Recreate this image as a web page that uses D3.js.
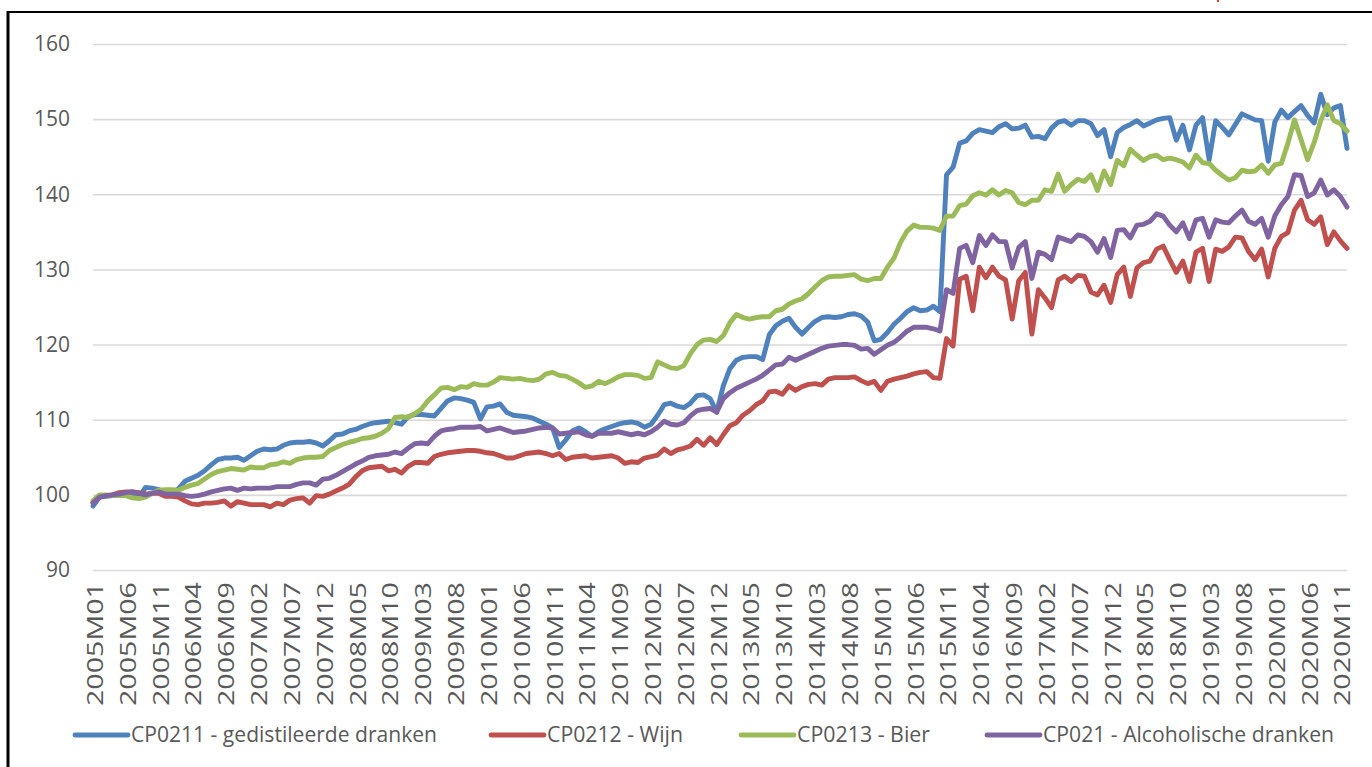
<!DOCTYPE html>
<html>
<head>
<meta charset="utf-8">
<script src="https://cdn.jsdelivr.net/npm/d3@7"></script>
<style>
  html, body { margin: 0; padding: 0; background: #fff; }
  svg { display: block; }
</style>
</head>
<body>
<svg id="chart" width="1372" height="767"></svg>
<script>
// Monthly price indices (2005M01 ≈ 100), January 2005 – December 2020
const startYear = 2005;
const endYear = 2020;
const months = [];
for (let yr = startYear; yr <= endYear; yr++) {
  for (let m = 1; m <= 12; m++) months.push(`${yr}M${String(m).padStart(2, "0")}`);
}

const xTickLabels = [
  "2005M01","2005M06","2005M11","2006M04","2006M09","2007M02","2007M07","2007M12",
  "2008M05","2008M10","2009M03","2009M08","2010M01","2010M06","2010M11","2011M04",
  "2011M09","2012M02","2012M07","2012M12","2013M05","2013M10","2014M03","2014M08",
  "2015M01","2015M06","2015M11","2016M04","2016M09","2017M02","2017M07","2017M12",
  "2018M05","2018M10","2019M03","2019M08","2020M01","2020M06","2020M11"
];
const yTicks = [90, 100, 110, 120, 130, 140, 150, 160];

const seriesNames = [
  "CP0211 - gedistileerde dranken",
  "CP0212 - Wijn",
  "CP0213 - Bier",
  "CP021 - Alcoholische dranken"
];
const seriesColors = ["#4f81bd", "#c0504d", "#9bbb59", "#8064a2"];

const spirits = [
  98.5, 99.7, 99.8, 99.9, 100.0, 100.0, 99.8, 99.6, 101.0, 100.9, 100.7, 100.4,
  100.3, 100.8, 101.8, 102.2, 102.6, 103.2, 104.0, 104.7, 104.9, 104.9, 105.0, 104.6,
  105.2, 105.8, 106.1, 106.0, 106.1, 106.6, 106.9, 107.0, 107.0, 107.1, 106.9, 106.5,
  107.2, 108.0, 108.1, 108.5, 108.7, 109.1, 109.4, 109.6, 109.7, 109.8, 109.6, 109.4,
  110.4, 110.7, 110.7, 110.6, 110.5, 111.5, 112.5, 112.9, 112.8, 112.6, 112.3, 110.1,
  111.7, 111.8, 112.1, 111.0, 110.6, 110.5, 110.4, 110.2, 109.8, 109.4, 108.9, 106.3,
  107.3, 108.5, 108.9, 108.4, 107.8, 108.4, 108.8, 109.1, 109.4, 109.6, 109.7, 109.5,
  109.0, 109.4, 110.6, 112.0, 112.2, 111.8, 111.6, 112.2, 113.2, 113.3, 112.8, 111.0,
  114.5, 116.8, 117.9, 118.3, 118.4, 118.4, 118.0, 121.3, 122.5, 123.1, 123.5, 122.3,
  121.4, 122.3, 123.1, 123.6, 123.7, 123.6, 123.7, 124.0, 124.1, 123.8, 123.0, 120.5,
  120.7, 121.6, 122.7, 123.5, 124.4, 124.9, 124.5, 124.6, 125.1, 124.4, 142.6, 143.6,
  146.8, 147.1, 148.1, 148.6, 148.4, 148.2, 149.0, 149.4, 148.7, 148.8, 149.2, 147.6,
  147.7, 147.4, 148.8, 149.6, 149.8, 149.2, 149.8, 149.8, 149.4, 147.8, 148.6, 145.0,
  148.2, 148.9, 149.3, 149.8, 149.1, 149.5, 149.9, 150.1, 150.2, 147.2, 149.2, 145.9,
  149.2, 150.2, 144.6, 149.8, 148.9, 147.9, 149.3, 150.7, 150.3, 149.9, 149.8, 144.4,
  149.6, 151.2, 150.2, 151.0, 151.8, 150.5, 149.5, 153.3, 150.6, 151.5, 151.8, 146.1
];

const wine = [
  99.0, 99.8, 99.9, 100.0, 100.3, 100.4, 100.4, 100.3, 100.1, 100.2, 100.2, 99.8,
  99.8, 99.7, 99.2, 98.8, 98.7, 98.9, 98.9, 99.0, 99.2, 98.5, 99.1, 98.9,
  98.7, 98.7, 98.7, 98.4, 98.9, 98.7, 99.3, 99.5, 99.6, 98.9, 99.9, 99.8,
  100.1, 100.5, 100.9, 101.4, 102.4, 103.2, 103.6, 103.7, 103.8, 103.2, 103.4, 102.9,
  103.8, 104.3, 104.3, 104.2, 105.1, 105.4, 105.6, 105.7, 105.8, 105.9, 105.9, 105.8,
  105.6, 105.5, 105.2, 104.9, 104.9, 105.2, 105.5, 105.6, 105.7, 105.5, 105.2, 105.5,
  104.7, 105.0, 105.1, 105.2, 104.9, 105.0, 105.1, 105.2, 104.9, 104.2, 104.4, 104.3,
  104.9, 105.1, 105.3, 106.1, 105.5, 106.0, 106.2, 106.5, 107.4, 106.6, 107.6, 106.7,
  108.0, 109.2, 109.6, 110.6, 111.2, 112.0, 112.5, 113.7, 113.8, 113.4, 114.5, 113.9,
  114.4, 114.7, 114.8, 114.6, 115.4, 115.6, 115.6, 115.6, 115.7, 115.2, 114.8, 115.1,
  113.9, 115.1, 115.4, 115.6, 115.8, 116.1, 116.3, 116.4, 115.6, 115.5, 120.8, 119.8,
  128.7, 129.1, 124.5, 130.3, 128.9, 130.3, 129.1, 128.6, 123.4, 128.5, 129.6, 121.4,
  127.3, 126.2, 124.9, 128.6, 129.1, 128.4, 129.2, 129.1, 127.0, 126.6, 127.9, 125.6,
  129.3, 130.3, 126.4, 130.2, 130.9, 131.1, 132.7, 133.1, 131.3, 129.6, 131.1, 128.4,
  132.3, 132.8, 128.4, 132.7, 132.4, 133.0, 134.3, 134.2, 132.4, 131.3, 132.7, 129.0,
  132.8, 134.4, 134.9, 137.9, 139.2, 136.6, 136.0, 137.0, 133.3, 135.0, 133.8, 132.8
];

const beer = [
  99.2, 100.0, 100.0, 99.9, 99.9, 99.9, 99.6, 99.5, 99.7, 100.2, 100.6, 100.7,
  100.7, 100.6, 101.0, 101.3, 101.5, 102.1, 102.7, 103.1, 103.3, 103.5, 103.4, 103.3,
  103.7, 103.6, 103.6, 104.0, 104.1, 104.4, 104.2, 104.7, 104.9, 105.0, 105.0, 105.1,
  105.9, 106.3, 106.7, 107.0, 107.2, 107.5, 107.6, 107.8, 108.2, 108.8, 110.3, 110.4,
  110.3, 110.8, 111.4, 112.5, 113.3, 114.2, 114.3, 114.0, 114.4, 114.3, 114.8, 114.6,
  114.6, 115.0, 115.6, 115.5, 115.4, 115.5, 115.3, 115.2, 115.4, 116.1, 116.3, 115.9,
  115.8, 115.4, 114.9, 114.3, 114.5, 115.1, 114.8, 115.2, 115.7, 116.0, 116.0, 115.9,
  115.5, 115.6, 117.7, 117.3, 116.9, 116.8, 117.2, 118.8, 120.0, 120.6, 120.7, 120.4,
  121.2, 122.9, 124.0, 123.6, 123.4, 123.6, 123.7, 123.7, 124.5, 124.7, 125.4, 125.8,
  126.1, 126.8, 127.7, 128.5, 129.0, 129.1, 129.1, 129.2, 129.3, 128.7, 128.5, 128.8,
  128.8, 130.3, 131.5, 133.6, 135.1, 135.9, 135.6, 135.6, 135.5, 135.2, 137.1, 137.1,
  138.5, 138.7, 139.8, 140.2, 139.9, 140.6, 139.9, 140.5, 140.2, 138.9, 138.6, 139.2,
  139.2, 140.6, 140.4, 142.7, 140.4, 141.3, 142.0, 141.7, 142.6, 140.5, 143.1, 141.3,
  144.5, 143.8, 146.0, 145.2, 144.5, 145.0, 145.2, 144.6, 144.8, 144.6, 144.3, 143.5,
  145.2, 144.2, 144.1, 143.2, 142.5, 141.9, 142.2, 143.2, 143.0, 143.1, 143.9, 142.8,
  143.9, 144.1, 146.8, 149.9, 147.3, 144.6, 146.9, 149.8, 151.9, 149.8, 149.4, 148.4
];

const alcohol = [
  98.9, 99.7, 99.9, 100.0, 100.1, 100.3, 100.4, 100.2, 100.0, 100.2, 100.4, 100.1,
  100.1, 100.1, 99.9, 99.8, 99.9, 100.1, 100.4, 100.6, 100.8, 100.9, 100.6, 100.9,
  100.8, 100.9, 100.9, 100.9, 101.1, 101.1, 101.1, 101.4, 101.6, 101.6, 101.3, 102.1,
  102.2, 102.6, 103.1, 103.6, 104.1, 104.5, 105.0, 105.2, 105.3, 105.4, 105.7, 105.5,
  106.2, 106.8, 106.9, 106.8, 107.8, 108.5, 108.7, 108.8, 109.0, 109.0, 109.0, 109.1,
  108.5, 108.7, 108.9, 108.6, 108.3, 108.4, 108.5, 108.7, 108.9, 109.0, 108.9, 108.1,
  108.2, 108.3, 108.4, 108.0, 107.8, 108.2, 108.2, 108.2, 108.4, 108.2, 108.0, 108.2,
  108.0, 108.4, 109.0, 109.8, 109.4, 109.3, 109.6, 110.5, 111.2, 111.4, 111.5, 111.0,
  112.8, 113.6, 114.2, 114.6, 115.0, 115.4, 115.9, 116.6, 117.3, 117.4, 118.3, 117.9,
  118.3, 118.7, 119.1, 119.5, 119.8, 119.9, 120.0, 120.0, 119.9, 119.4, 119.5, 118.7,
  119.3, 119.9, 120.3, 121.0, 121.8, 122.3, 122.3, 122.3, 122.1, 121.8, 127.3, 126.8,
  132.8, 133.2, 130.9, 134.5, 133.2, 134.6, 133.7, 133.7, 130.2, 132.9, 133.7, 128.8,
  132.3, 132.0, 131.3, 134.3, 134.0, 133.7, 134.6, 134.4, 133.7, 132.3, 134.1, 131.6,
  135.2, 135.3, 134.2, 135.9, 136.0, 136.4, 137.4, 137.1, 135.9, 135.0, 136.2, 134.1,
  136.6, 136.8, 134.3, 136.6, 136.3, 136.2, 137.1, 137.9, 136.4, 136.0, 136.8, 134.3,
  137.1, 138.6, 139.7, 142.6, 142.5, 139.7, 140.2, 141.9, 139.9, 140.6, 139.7, 138.3
];

const seriesValues = [spirits, wine, beer, alcohol];

// ---------------------------------------------------------------------------
const W = 1372, H = 767;
const plot = { left: 93, right: 1347, top: 44, bottom: 570 };
const labelColor = "#595959";
const font = "'Open Sans', 'Liberation Sans', sans-serif";

const svg = d3.select("#chart").attr("viewBox", `0 0 ${W} ${H}`);
svg.append("rect").attr("width", W).attr("height", H).attr("fill", "#fff");

const x = d3.scalePoint().domain(months).range([plot.left, plot.right]);
const y = d3.scaleLinear().domain([90, 160]).range([plot.bottom, plot.top]);

// Horizontal gridlines and value labels
const yAxis = svg.append("g")
  .attr("transform", `translate(${plot.left},0)`)
  .call(d3.axisLeft(y)
    .tickValues(yTicks)
    .tickSize(-(plot.right - plot.left))
    .tickPadding(23)
    .tickFormat(d3.format("d")));
yAxis.select(".domain").remove();
yAxis.selectAll(".tick line").attr("stroke", "#d9d9d9").attr("stroke-width", 1.6);
yAxis.selectAll(".tick text")
  .attr("fill", labelColor)
  .style("font-family", font)
  .style("font-size", "21px");

// Category labels, rotated
const xAxis = svg.append("g")
  .attr("transform", `translate(0,${plot.bottom})`)
  .call(d3.axisBottom(x).tickValues(xTickLabels).tickSize(0));
xAxis.select(".domain").remove();
xAxis.selectAll(".tick text")
  .attr("transform", "rotate(-90)")
  .attr("text-anchor", "end")
  .attr("x", -12)
  .attr("y", 0)
  .attr("dy", "0.45em")
  .attr("fill", labelColor)
  .attr("textLength", 124)
  .attr("lengthAdjust", "spacingAndGlyphs")
  .style("font-family", font)
  .style("font-size", "21px");

// Series lines
const line = d3.line()
  .x((d, i) => x(months[i]))
  .y(d => y(d));

svg.append("g")
  .selectAll("path")
  .data(seriesValues)
  .join("path")
  .attr("d", d => line(d))
  .attr("fill", "none")
  .attr("stroke", (d, i) => seriesColors[i])
  .attr("stroke-width", 4.9)
  .attr("stroke-linejoin", "round")
  .attr("stroke-linecap", "round");

// Legend
const legendItems = [
  { x: 75, textWidth: 306 },
  { x: 491, textWidth: 136 },
  { x: 741, textWidth: 133 },
  { x: 987, textWidth: 291 }
];
const legendY = 735;
const legend = svg.append("g")
  .selectAll("g")
  .data(seriesNames)
  .join("g")
  .attr("transform", (d, i) => `translate(${legendItems[i].x},${legendY})`);
legend.append("line")
  .attr("x1", 0).attr("x2", 53)
  .attr("y1", 0).attr("y2", 0)
  .attr("stroke", (d, i) => seriesColors[i])
  .attr("stroke-width", 4.9)
  .attr("stroke-linecap", "round");
legend.append("text")
  .attr("x", 56)
  .attr("y", 0)
  .attr("dy", "0.35em")
  .attr("fill", labelColor)
  .attr("textLength", (d, i) => legendItems[i].textWidth)
  .attr("lengthAdjust", "spacingAndGlyphs")
  .style("font-family", font)
  .style("font-size", "21px")
  .text(d => d);

// Frame
svg.append("line")
  .attr("x1", 8).attr("x2", 8).attr("y1", 11).attr("y2", H)
  .attr("stroke", "#000").attr("stroke-width", 3);
svg.append("line")
  .attr("x1", 7).attr("x2", W).attr("y1", 12).attr("y2", 12)
  .attr("stroke", "#000").attr("stroke-width", 2.2);

// small red mark at the top edge
svg.append("line")
  .attr("x1", 1218).attr("x2", 1218).attr("y1", 0).attr("y2", 2)
  .attr("stroke", "#d9441c").attr("stroke-width", 2);
</script>
</body>
</html>
